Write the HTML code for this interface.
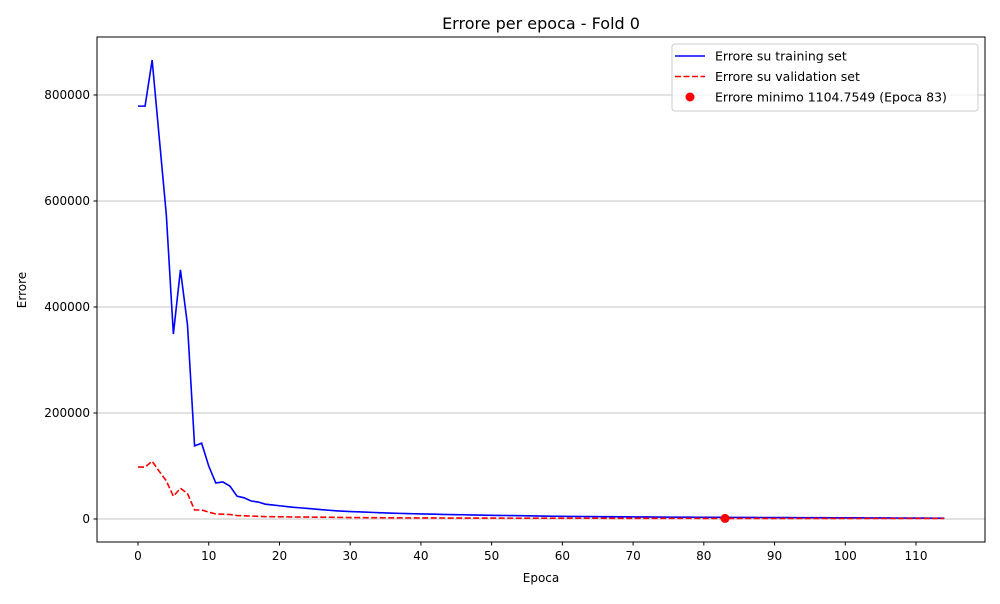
<!DOCTYPE html>
<html><head><meta charset="utf-8"><style>
body{margin:0;background:#fff;font-family:"DejaVu Sans","Liberation Sans",sans-serif;}
svg text{font-family:"DejaVu Sans","Liberation Sans",sans-serif;}
</style></head><body>
<svg id="c" width="1000" height="600" xmlns="http://www.w3.org/2000/svg"></svg>
<script>
const epochs=[];for(let i=0;i<115;i++)epochs.push(i);
const trainErr=[779000,779000,866000,720000,575000,349000,470000,366000,138000,143000,100000,68000,70000,62000,43000,40000,34000,32000,28000,26500,25000,23500,22000,21000,20000,18800,17500,16500,15500,14700,14000,13500,13000,12500,12000,11500,11000,10600,10200,9900,9600,9300,9000,8700,8400,8200,8000,7700,7400,7200,7000,6800,6600,6400,6200,6000,5800,5600,5400,5200,5000,4900,4800,4700,4600,4500,4400,4300,4200,4100,4000,3900,3800,3700,3600,3500,3450,3400,3350,3300,3250,3200,3150,3100,3050,3000,2950,2900,2850,2800,2750,2700,2650,2600,2550,2500,2450,2400,2350,2300,2250,2200,2150,2100,2050,2000,1950,1900,1850,1800,1750,1700,1650,1600,1550];
const valErr=[98000,98000,109000,90000,72000,43000,58000,48000,17000,17000,13000,9500,9000,8500,6500,6000,5500,5000,4500,4300,4200,4000,3800,3700,3600,3500,3400,3300,3100,3000,2800,2700,2600,2500,2400,2300,2250,2200,2100,2050,2000,1980,1950,1900,1850,1800,1780,1760,1740,1720,1700,1680,1660,1640,1620,1600,1580,1560,1540,1520,1500,1480,1460,1440,1420,1400,1380,1360,1340,1320,1300,1280,1260,1240,1220,1200,1190,1180,1170,1160,1150,1140,1120,1104.7549,1110,1115,1120,1118,1116,1114,1112,1110,1108,1112,1115,1113,1111,1109,1108,1110,1112,1111,1110,1109,1108,1110,1111,1110,1109,1108,1107,1108,1109,1108,1107];
const minEpoch=83, minVal=1104.7549;
const xTicks=[0,10,20,30,40,50,60,70,80,90,100,110];
const yTicks=[0,200000,400000,600000,800000];
const L=97,R=985,T=37,B=542;
const X=v=>138+(v)*778/110;
const Y=v=>519-v*424/800000;
const svg=document.getElementById('c');const NS='http://www.w3.org/2000/svg';
function mk(t,a,txt){const e=document.createElementNS(NS,t);for(const k in a)e.setAttribute(k,a[k]);if(txt!==undefined)e.textContent=txt;svg.appendChild(e);return e;}
yTicks.forEach(v=>{const g=mk('line',{x1:L,x2:R,y1:Y(v),y2:Y(v),stroke:'#b0b0b0','stroke-width':0.8});


const t=mk('line',{x1:L-3.5,x2:L,y1:Y(v),y2:Y(v),stroke:'#000'});


const l=mk('text',{x:L-7,y:Y(v)+4,'text-anchor':'end','font-size':12},String(v));

});
xTicks.forEach(v=>{const t=mk('line',{x1:X(v),x2:X(v),y1:B,y2:B+3.5,stroke:'#000'});


const l=mk('text',{x:X(v),y:B+18,'text-anchor':'middle','font-size':12},String(v));

});
const tp=mk('polyline',{points:epochs.map((e,i)=>X(e)+','+Y(trainErr[i])).join(' '),fill:'none',stroke:'#0000ff','stroke-width':1.6});


const vp=mk('polyline',{points:epochs.map((e,i)=>X(e)+','+Y(valErr[i])).join(' '),fill:'none',stroke:'#ff0000','stroke-width':1.6,'stroke-dasharray':'6,2.5'});


const mp=mk('circle',{cx:X(minEpoch),cy:Y(minVal),r:4.5,fill:'#ff0000'});


const fr=mk('rect',{x:L,y:T,width:R-L,height:B-T,fill:'none',stroke:'#000','stroke-width':1});


const ti=mk('text',{x:541,y:29,'text-anchor':'middle','font-size':16},'Errore per epoca - Fold 0');


const xt=mk('text',{x:541,y:582,'text-anchor':'middle','font-size':12},'Epoca');


const yt=mk('text',{x:26,y:290,'text-anchor':'middle','font-size':12,transform:'rotate(-90 26 290)'},'Errore');


const lb=mk('rect',{x:672,y:44,width:306,height:67,rx:3,fill:'#fff','fill-opacity':0.8,stroke:'#ccc'});


const entries=[['Errore su training set','train'],['Errore su validation set','val'],['Errore minimo 1104.7549 (Epoca 83)','min']];
entries.forEach((en,i)=>{const y=56+i*20.5;
if(en[1]==='train'){const s=mk('line',{x1:675,x2:705,y1:y,y2:y,stroke:'#0000ff','stroke-width':1.6});}
if(en[1]==='val'){const s=mk('line',{x1:675,x2:705,y1:y,y2:y,stroke:'#ff0000','stroke-width':1.6,'stroke-dasharray':'6,2.5'});}
if(en[1]==='min'){const s=mk('circle',{cx:690,cy:y,r:4.5,fill:'#ff0000'});}
const t=mk('text',{x:715,y:y+4.5,'font-size':12.5},en[0]);

});
</script>
</body></html>
